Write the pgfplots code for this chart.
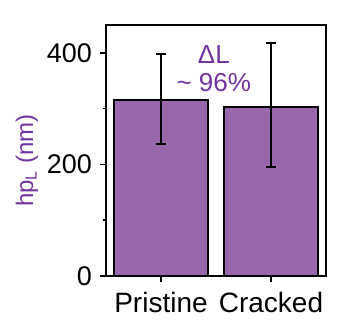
\documentclass[border=0pt]{standalone}
\usepackage{fontspec}
\setmainfont{Liberation Sans}
\usepackage{pgfplots}
\pgfplotsset{compat=1.18}
\definecolor{barpurple}{RGB}{153,104,172}
\definecolor{txtpurple}{RGB}{114,52,160}
\begin{document}
\begin{tikzpicture}
\useasboundingbox (-53pt,-26pt) rectangle (123.5pt,138pt);
\begin{axis}[
  at={(0,0)}, anchor=south west,
  scale only axis, width=110pt, height=125.5pt,
  xmin=-0.5, xmax=1.5, ymin=0, ymax=450,
  xtick={0,1}, xticklabels={Pristine,Cracked},
  ytick={0,200,400}, minor ytick={100,300},
  tick pos=left, tick align=outside,
  major tick length=3pt, minor tick length=1.5pt,
  axis line style={line width=1pt},
  every tick/.style={black, line width=0.8pt},
  /pgf/number format/assume math mode=true,
  yticklabel style={font=\fontsize{13.5}{15}\selectfont, xshift=-0.5pt},
  xticklabel style={font=\fontsize{14}{16}\selectfont, yshift=-1.5pt},
  ylabel={hp\textsubscript{L} (nm)},
  ylabel style={font=\fontsize{12}{13}\selectfont, text=txtpurple, at={(axis description cs:-0.36,0.46)}, anchor=center},
]
\addplot[ybar, bar width=0.855, fill=barpurple, draw=black, line width=0.9pt,
  error bars/.cd, y dir=both, y explicit,
  error bar style={black, line width=0.8pt},
  error mark options={rotate=90, mark size=2.5pt, line width=1pt}]
  table[x=x, y=y, y error plus=ep, y error minus=em] {
x y ep em
0 315 83 79
1 303 114 107
};
\node[align=center, text=txtpurple, font=\fontsize{13}{14}\selectfont] at (axis cs:0.48,372) {ΔL\\\textasciitilde{} 96\%};
\end{axis}
\end{tikzpicture}
\end{document}
